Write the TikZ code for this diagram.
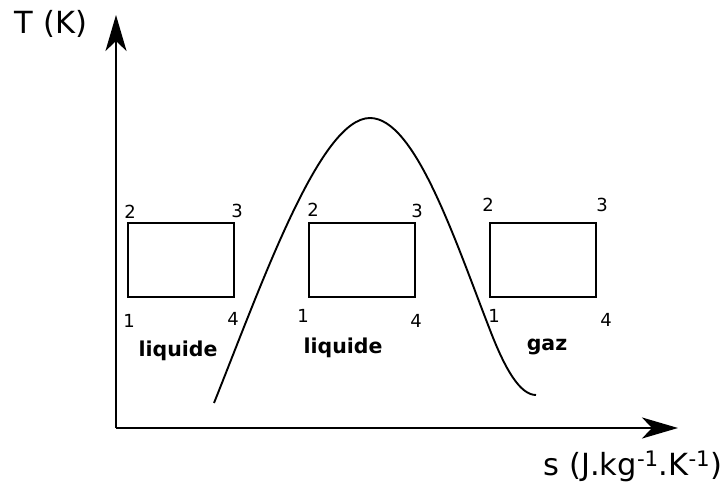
\documentclass[tikz,border=0pt]{standalone}
\usepackage{fontspec}
\setmainfont{DejaVu Sans}
\usepackage{tikz}
\usetikzlibrary{arrows.meta,positioning}
\tikzset{
    axis/.style={line width=2.7pt, -{Stealth[length=36pt,width=21pt,inset=10pt]}},
    cycbox/.style={draw, line width=2pt, minimum width=106pt,
                   minimum height=74pt, inner sep=0pt},
    corner/.style={font=\fontsize{18}{20}\selectfont, inner sep=0pt},
    phase/.style={font=\fontsize{20.5}{24}\selectfont\bfseries, inner sep=0pt},
    axlabel/.style={font=\fontsize{30.5}{34}\selectfont, inner sep=0pt},
}
\begin{document}
\begin{tikzpicture}[x=1pt, y=-1pt]
    \useasboundingbox (0,0) rectangle (726,486);

    % axes
    \coordinate (origin) at (116,428);
    \coordinate (ytip) at (116,15);
    \coordinate (xtip) at (678,428);
    \draw[axis] (origin) -- (ytip);
    \draw[axis] (origin) -- (xtip);
    \node[axlabel] (tlab) at (51,24) {T (K)};
    \node[axlabel] (slab) at (633,466) {s (J.kg\textsuperscript{-1}.K\textsuperscript{-1})};

    % saturation dome
    \coordinate (domeL) at (214,403);
    \coordinate (domeTop) at (370,118);
    \coordinate (domeM) at (490,330);
    \coordinate (domeR) at (536,395);
    \draw[line width=1.9pt] (domeL) .. controls (262,283) and (320,118) .. (domeTop)
        .. controls (415,118) and (455,240) .. (domeM)
        .. controls (505,369) and (520,395) .. (domeR);

    % cycles
    \node[cycbox] (cyc1) at (181,260) {};
    \node[cycbox] (cyc2) at (362,260) {};
    \node[cycbox] (cyc3) at (542.5,260) {};

    \node[corner] (c1two) at (130,212) {2};
    \node[corner] (c1three) at (237,211) {3};
    \node[corner] (c1one) at (129,321) {1};
    \node[corner] (c1four) at (233,319) {4};

    \node[corner] (c2two) at (313,210) {2};
    \node[corner] (c2three) at (417,211) {3};
    \node[corner] (c2one) at (303,316) {1};
    \node[corner] (c2four) at (416,321) {4};

    \node[corner] (c3two) at (488,205) {2};
    \node[corner] (c3three) at (602,205) {3};
    \node[corner] (c3one) at (494,316) {1};
    \node[corner] (c3four) at (606,320) {4};

    % phases
    \node[phase] (liq1) at (178,351) {liquide};
    \node[phase] (liq2) at (343,348) {liquide};
    \node[phase] (gas) at (547,347) {gaz};
\end{tikzpicture}
\end{document}
